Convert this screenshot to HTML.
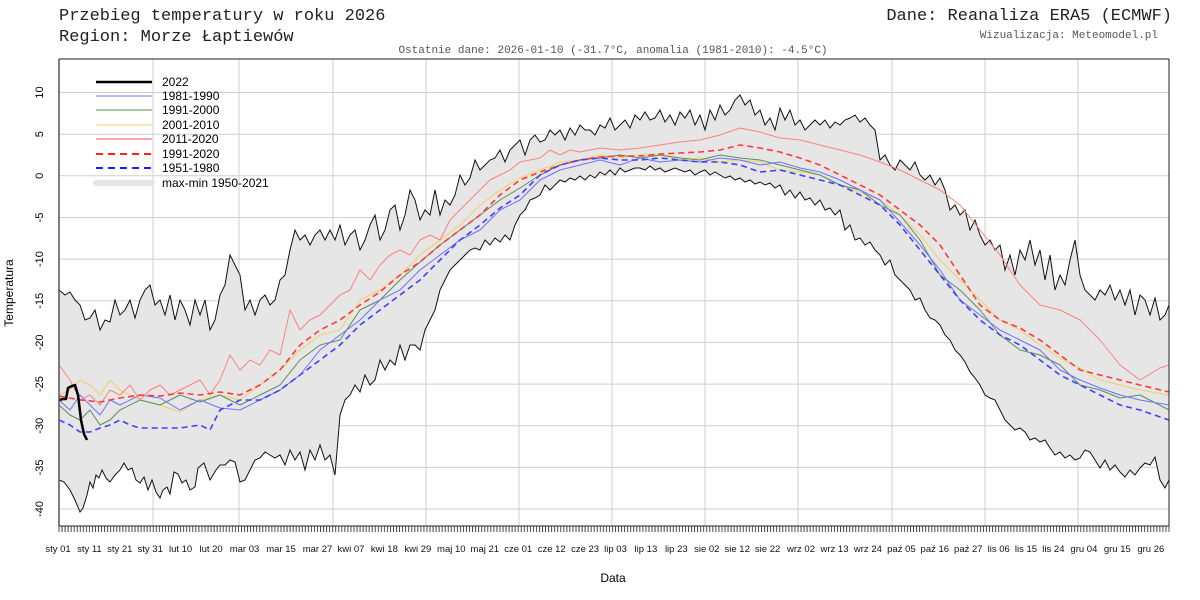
<!DOCTYPE html>
<html><head><meta charset="utf-8"><style>body{margin:0;background:#fff}svg{display:block}</style></head>
<body>
<svg width="1200" height="600" xmlns="http://www.w3.org/2000/svg" font-family="Liberation Sans, Arial, sans-serif">
<defs>
<clipPath id="below"><polygon points="59,480 64,482 70,490 75,500 80,512 83,508 87,495 90,482 93,488 96,475 99,478 102,470 106,478 110,482 115,475 120,470 124,463 128,470 132,468 136,480 140,483 144,477 148,490 152,480 156,492 160,498 163,490 167,487 170,494 174,472 178,474 182,483 186,480 190,490 195,487 198,468 204,463 210,480 216,470 220,465 225,465 230,460 235,462 240,482 245,480 250,470 255,460 260,458 265,452 270,455 275,458 280,455 285,465 290,450 295,460 300,452 305,470 310,450 315,460 320,445 325,460 330,455 335,475 340,415 345,400 350,395 355,385 360,392 365,375 370,385 375,380 380,360 385,370 390,360 395,365 400,345 405,360 410,345 415,345 420,350 425,330 430,320 435,310 440,290 445,280 450,270 455,265 460,260 465,255 470,250 475,248 480,250 485,240 490,245 495,238 500,242 505,235 510,240 515,225 520,215 525,210 530,200 535,198 540,195 545,185 550,190 555,185 560,180 565,182 570,178 575,180 580,176 585,180 590,175 595,178 600,172 605,175 610,170 615,175 620,168 625,172 630,170 635,168 640,168 645,170 650,166 655,170 660,168 665,172 670,170 675,168 680,170 685,172 690,170 695,175 700,172 705,170 710,175 715,172 720,175 725,178 730,176 735,180 740,178 745,182 750,180 755,184 760,182 765,185 770,183 775,188 780,185 785,195 790,190 795,198 800,192 805,200 810,198 815,205 820,200 825,210 830,208 835,215 840,210 845,230 850,225 855,240 860,238 865,245 870,242 875,250 880,255 885,265 890,260 895,275 900,280 905,285 910,290 915,300 920,298 925,310 930,318 935,320 940,325 945,335 950,340 955,350 960,355 965,362 970,372 975,378 980,385 985,395 990,398 995,400 1000,410 1005,420 1010,425 1015,430 1020,428 1025,432 1030,440 1035,438 1040,442 1045,440 1050,448 1055,455 1060,452 1065,458 1070,455 1075,460 1080,458 1085,450 1090,452 1095,460 1100,468 1105,460 1110,470 1115,465 1120,472 1125,477 1130,470 1135,475 1140,468 1145,463 1150,465 1155,457 1160,480 1165,488 1169,480 1169,526 59,526"/></clipPath>
<pattern id="tk" patternUnits="userSpaceOnUse" x="58.5" y="526" width="3.0411" height="6"><line x1="0.5" y1="0" x2="0.5" y2="6" stroke="#333" stroke-width="0.9"/></pattern>
<g id="grid" stroke="#cfcfcf" stroke-width="1">
<line x1="59" x2="1169" y1="92.5" y2="92.5"/><line x1="59" x2="1169" y1="134.2" y2="134.2"/><line x1="59" x2="1169" y1="175.8" y2="175.8"/><line x1="59" x2="1169" y1="217.5" y2="217.5"/><line x1="59" x2="1169" y1="259.1" y2="259.1"/><line x1="59" x2="1169" y1="300.8" y2="300.8"/><line x1="59" x2="1169" y1="342.4" y2="342.4"/><line x1="59" x2="1169" y1="384.1" y2="384.1"/><line x1="59" x2="1169" y1="425.7" y2="425.7"/><line x1="59" x2="1169" y1="467.4" y2="467.4"/><line x1="59" x2="1169" y1="509" y2="509"/>
<line x1="153" x2="153" y1="59" y2="526"/><line x1="239" x2="239" y1="59" y2="526"/><line x1="333" x2="333" y1="59" y2="526"/><line x1="426" x2="426" y1="59" y2="526"/><line x1="519" x2="519" y1="59" y2="526"/><line x1="612" x2="612" y1="59" y2="526"/><line x1="705" x2="705" y1="59" y2="526"/><line x1="798" x2="798" y1="59" y2="526"/><line x1="892" x2="892" y1="59" y2="526"/><line x1="985" x2="985" y1="59" y2="526"/><line x1="1078" x2="1078" y1="59" y2="526"/>
</g>
</defs>
<rect width="1200" height="600" fill="#fff"/>
<g font-family="Liberation Mono, monospace" fill="#222">
<text x="59" y="20" font-size="17">Przebieg temperatury w roku 2026</text>
<text x="59" y="41" font-size="17">Region: Morze Łaptiewów</text>
<text x="1172" y="20" font-size="17" text-anchor="end">Dane: Reanaliza ERA5 (ECMWF)</text>
<text x="1158" y="38" font-size="11" text-anchor="end" fill="#555">Wizualizacja: Meteomodel.pl</text>
<text x="613" y="53" font-size="11" text-anchor="middle" fill="#555">Ostatnie dane: 2026-01-10 (-31.7°C, anomalia (1981-2010): -4.5°C)</text>
</g>
<use href="#grid"/>
<polygon fill="#e6e6e6" points="59,290 65,295 70,292 75,300 80,305 85,320 90,318 95,310 100,330 105,320 110,322 115,300 120,315 125,310 130,300 135,318 140,300 145,290 150,285 155,305 160,300 165,315 170,295 175,320 180,300 185,310 190,325 195,300 200,315 205,300 210,330 215,320 220,295 225,285 230,255 235,265 240,275 245,310 250,300 255,315 260,300 265,295 270,305 275,300 280,280 285,275 290,250 295,230 300,240 305,235 310,245 315,235 320,230 325,240 330,230 335,240 340,225 345,245 350,235 355,230 360,250 365,240 370,225 375,215 380,240 385,230 390,210 395,205 400,230 405,215 410,190 415,200 420,220 425,210 430,215 435,190 440,215 445,200 450,205 455,195 460,175 465,185 470,178 475,160 480,170 485,165 490,160 495,158 500,150 505,162 510,150 515,145 520,140 525,155 530,140 535,135 540,142 545,140 550,130 555,135 560,130 565,140 570,128 575,135 580,125 585,130 590,130 595,135 600,125 605,128 610,118 615,130 620,125 625,120 630,128 635,115 640,120 645,112 650,120 655,118 660,110 665,122 670,115 675,125 680,112 685,118 690,110 695,125 700,115 705,130 710,110 715,120 720,105 725,115 730,110 735,100 740,95 745,105 750,100 755,115 760,110 765,125 770,118 775,130 780,108 785,120 790,110 795,125 800,120 805,130 810,125 815,120 820,125 825,120 830,128 835,122 840,125 845,120 850,118 855,115 860,122 865,118 870,125 875,130 880,160 885,155 890,165 895,170 900,160 905,165 910,170 915,162 920,175 925,180 930,175 935,185 940,178 945,190 950,210 955,205 960,215 965,210 970,230 975,220 980,235 985,245 990,240 995,250 1000,245 1005,270 1010,255 1015,275 1020,250 1025,260 1030,240 1035,265 1040,250 1045,280 1050,255 1055,290 1060,275 1065,285 1070,260 1075,240 1080,275 1085,290 1090,295 1095,300 1100,290 1105,295 1110,285 1115,300 1120,290 1125,305 1130,290 1135,315 1140,295 1145,300 1150,315 1155,298 1160,320 1165,315 1169,305 1169,526 59,526"/>
<rect x="59" y="59" width="1110" height="467" fill="#fff" clip-path="url(#below)"/>
<use href="#grid" clip-path="url(#below)"/>
<g fill="none" stroke="#111" stroke-width="1">
<polyline points="59,290 65,295 70,292 75,300 80,305 85,320 90,318 95,310 100,330 105,320 110,322 115,300 120,315 125,310 130,300 135,318 140,300 145,290 150,285 155,305 160,300 165,315 170,295 175,320 180,300 185,310 190,325 195,300 200,315 205,300 210,330 215,320 220,295 225,285 230,255 235,265 240,275 245,310 250,300 255,315 260,300 265,295 270,305 275,300 280,280 285,275 290,250 295,230 300,240 305,235 310,245 315,235 320,230 325,240 330,230 335,240 340,225 345,245 350,235 355,230 360,250 365,240 370,225 375,215 380,240 385,230 390,210 395,205 400,230 405,215 410,190 415,200 420,220 425,210 430,215 435,190 440,215 445,200 450,205 455,195 460,175 465,185 470,178 475,160 480,170 485,165 490,160 495,158 500,150 505,162 510,150 515,145 520,140 525,155 530,140 535,135 540,142 545,140 550,130 555,135 560,130 565,140 570,128 575,135 580,125 585,130 590,130 595,135 600,125 605,128 610,118 615,130 620,125 625,120 630,128 635,115 640,120 645,112 650,120 655,118 660,110 665,122 670,115 675,125 680,112 685,118 690,110 695,125 700,115 705,130 710,110 715,120 720,105 725,115 730,110 735,100 740,95 745,105 750,100 755,115 760,110 765,125 770,118 775,130 780,108 785,120 790,110 795,125 800,120 805,130 810,125 815,120 820,125 825,120 830,128 835,122 840,125 845,120 850,118 855,115 860,122 865,118 870,125 875,130 880,160 885,155 890,165 895,170 900,160 905,165 910,170 915,162 920,175 925,180 930,175 935,185 940,178 945,190 950,210 955,205 960,215 965,210 970,230 975,220 980,235 985,245 990,240 995,250 1000,245 1005,270 1010,255 1015,275 1020,250 1025,260 1030,240 1035,265 1040,250 1045,280 1050,255 1055,290 1060,275 1065,285 1070,260 1075,240 1080,275 1085,290 1090,295 1095,300 1100,290 1105,295 1110,285 1115,300 1120,290 1125,305 1130,290 1135,315 1140,295 1145,300 1150,315 1155,298 1160,320 1165,315 1169,305"/>
<polyline points="59,480 64,482 70,490 75,500 80,512 83,508 87,495 90,482 93,488 96,475 99,478 102,470 106,478 110,482 115,475 120,470 124,463 128,470 132,468 136,480 140,483 144,477 148,490 152,480 156,492 160,498 163,490 167,487 170,494 174,472 178,474 182,483 186,480 190,490 195,487 198,468 204,463 210,480 216,470 220,465 225,465 230,460 235,462 240,482 245,480 250,470 255,460 260,458 265,452 270,455 275,458 280,455 285,465 290,450 295,460 300,452 305,470 310,450 315,460 320,445 325,460 330,455 335,475 340,415 345,400 350,395 355,385 360,392 365,375 370,385 375,380 380,360 385,370 390,360 395,365 400,345 405,360 410,345 415,345 420,350 425,330 430,320 435,310 440,290 445,280 450,270 455,265 460,260 465,255 470,250 475,248 480,250 485,240 490,245 495,238 500,242 505,235 510,240 515,225 520,215 525,210 530,200 535,198 540,195 545,185 550,190 555,185 560,180 565,182 570,178 575,180 580,176 585,180 590,175 595,178 600,172 605,175 610,170 615,175 620,168 625,172 630,170 635,168 640,168 645,170 650,166 655,170 660,168 665,172 670,170 675,168 680,170 685,172 690,170 695,175 700,172 705,170 710,175 715,172 720,175 725,178 730,176 735,180 740,178 745,182 750,180 755,184 760,182 765,185 770,183 775,188 780,185 785,195 790,190 795,198 800,192 805,200 810,198 815,205 820,200 825,210 830,208 835,215 840,210 845,230 850,225 855,240 860,238 865,245 870,242 875,250 880,255 885,265 890,260 895,275 900,280 905,285 910,290 915,300 920,298 925,310 930,318 935,320 940,325 945,335 950,340 955,350 960,355 965,362 970,372 975,378 980,385 985,395 990,398 995,400 1000,410 1005,420 1010,425 1015,430 1020,428 1025,432 1030,440 1035,438 1040,442 1045,440 1050,448 1055,455 1060,452 1065,458 1070,455 1075,460 1080,458 1085,450 1090,452 1095,460 1100,468 1105,460 1110,470 1115,465 1120,472 1125,477 1130,470 1135,475 1140,468 1145,463 1150,465 1155,457 1160,480 1165,488 1169,480"/>
</g>
<g fill="none" stroke-linejoin="round">
<polyline stroke="#f0d060" points="59,395 70,390 80,380 90,385 100,395 110,380 120,390 140,400 160,405 180,412 200,400 220,395 240,400 260,385 280,370 300,350 320,335 340,330 360,300 380,290 400,275 420,255 440,240 460,225 480,205 500,190 520,178 540,170 560,162 580,160 600,155 620,158 640,155 660,155 680,160 700,158 720,162 740,160 760,162 780,170 800,172 820,175 840,185 860,192 880,200 900,215 920,235 940,260 960,280 980,300 1000,320 1020,330 1040,345 1060,358 1080,368 1100,380 1120,385 1140,390 1169,395"/>
<polyline stroke="#5a8f5a" points="59,405 70,415 80,420 90,410 100,425 110,420 120,410 140,400 160,405 180,395 200,402 220,395 240,405 260,395 280,385 300,360 320,345 340,340 360,310 380,300 400,280 420,262 440,245 460,230 480,215 500,200 520,188 540,175 560,165 580,160 600,158 620,155 640,158 660,155 680,158 700,160 720,155 740,158 760,160 780,165 800,170 820,175 840,185 860,190 880,205 900,215 920,240 940,275 960,290 980,310 1000,335 1020,350 1040,355 1060,365 1080,385 1100,390 1120,398 1140,395 1169,410"/>
<polyline stroke="#6f6fff" points="59,400 70,410 80,395 90,405 100,415 110,400 120,405 140,395 160,398 180,410 200,400 220,408 240,410 260,400 280,390 300,375 320,350 340,335 360,320 380,300 400,290 420,270 440,255 460,240 480,230 500,210 520,200 540,180 560,170 580,165 600,160 620,165 640,158 660,162 680,160 700,162 720,158 740,160 760,165 780,162 800,168 820,172 840,180 860,190 880,200 900,222 920,245 940,270 960,300 980,315 1000,330 1020,340 1040,350 1060,370 1080,380 1100,388 1120,395 1140,400 1169,405"/>
<polyline stroke="#ff8080" points="59,365 70,380 80,400 90,395 100,405 110,390 120,395 130,385 140,400 150,390 160,385 170,395 180,390 190,385 200,380 210,395 220,380 230,355 240,370 250,360 260,365 270,350 280,355 290,310 300,330 310,320 320,315 330,305 340,295 350,290 360,270 370,280 380,265 390,255 400,250 410,255 420,240 430,235 440,240 450,220 460,210 470,200 480,190 490,180 500,175 510,170 520,162 530,160 540,158 550,150 560,155 570,150 580,152 600,148 620,150 640,148 660,145 680,142 700,140 720,135 740,128 760,132 780,138 800,140 820,145 840,150 860,155 880,162 900,170 920,180 940,190 960,205 980,230 1000,255 1020,285 1040,305 1060,310 1080,320 1100,340 1120,365 1140,380 1160,368 1169,365"/>
<polyline stroke="#ff3a3a" stroke-width="1.6" stroke-dasharray="6,4" points="59,396 80,400 100,402 120,398 140,395 160,396 180,393 200,395 220,392 240,395 260,385 280,370 300,345 320,330 340,320 360,305 380,292 400,275 420,262 440,245 460,230 480,215 500,195 520,180 540,172 560,165 580,160 600,157 620,156 640,156 660,154 680,153 700,152 720,150 740,145 760,148 780,152 800,158 820,165 840,175 860,185 880,195 900,210 920,225 940,245 960,275 980,305 1000,320 1020,328 1040,340 1060,355 1080,370 1100,375 1120,380 1140,385 1169,392"/>
<polyline stroke="#4040ff" stroke-width="1.6" stroke-dasharray="6,4" points="59,420 70,425 80,432 90,432 100,428 110,425 120,420 130,425 140,428 160,428 180,428 200,425 210,430 220,410 240,400 260,400 280,390 300,375 320,360 340,345 360,325 380,310 400,295 420,280 440,260 460,240 480,225 500,208 520,195 540,175 560,165 580,160 600,158 620,160 640,160 660,158 680,160 700,162 720,162 740,165 760,172 780,170 800,175 820,180 840,185 860,195 880,205 900,225 920,250 940,275 960,300 980,320 1000,335 1020,345 1040,360 1060,375 1080,385 1100,395 1120,405 1140,410 1169,420"/>
<polyline stroke="#000" stroke-width="2.5" points="59,400 63,399 66,399 68,388 72,386 75,385 78,395 81,420 84,434 87,440"/>
</g>
<g stroke-width="1">
<line x1="59" y1="59" x2="59" y2="526" stroke="#555" stroke-width="1.5"/>
<line x1="1169" y1="59" x2="1169" y2="526" stroke="#222"/>
<line x1="59" y1="59" x2="1169" y2="59" stroke="#222"/>
<line x1="59" y1="526" x2="1169" y2="526" stroke="#222"/>
</g>
<rect x="58.5" y="526" width="1111" height="6" fill="url(#tk)"/>
<g font-size="11" text-anchor="middle" fill="#000">
<text transform="translate(43,92.5) rotate(-90)">10</text>
<text transform="translate(43,134.2) rotate(-90)">5</text>
<text transform="translate(43,175.8) rotate(-90)">0</text>
<text transform="translate(43,217.5) rotate(-90)">-5</text>
<text transform="translate(43,259.1) rotate(-90)">-10</text>
<text transform="translate(43,300.8) rotate(-90)">-15</text>
<text transform="translate(43,342.4) rotate(-90)">-20</text>
<text transform="translate(43,384.1) rotate(-90)">-25</text>
<text transform="translate(43,425.7) rotate(-90)">-30</text>
<text transform="translate(43,467.4) rotate(-90)">-35</text>
<text transform="translate(43,509) rotate(-90)">-40</text>
</g>
<g font-size="9.5" text-anchor="middle" fill="#111">
<text x="58" y="552">sty 01</text><text x="89.4" y="552">sty 11</text><text x="119.8" y="552">sty 21</text><text x="150.2" y="552">sty 31</text><text x="180.6" y="552">lut 10</text><text x="211.1" y="552">lut 20</text><text x="244.5" y="552">mar 03</text><text x="281" y="552">mar 15</text><text x="317.5" y="552">mar 27</text><text x="351" y="552">kwi 07</text><text x="384.4" y="552">kwi 18</text><text x="417.8" y="552">kwi 29</text><text x="451.3" y="552">maj 10</text><text x="484.8" y="552">maj 21</text><text x="518.2" y="552">cze 01</text><text x="551.7" y="552">cze 12</text><text x="585.1" y="552">cze 23</text><text x="615.5" y="552">lip 03</text><text x="645.9" y="552">lip 13</text><text x="676.3" y="552">lip 23</text><text x="706.8" y="552">sie 02</text><text x="737.2" y="552">sie 12</text><text x="767.6" y="552">sie 22</text><text x="801" y="552">wrz 02</text><text x="834.5" y="552">wrz 13</text><text x="867.9" y="552">wrz 24</text><text x="901.4" y="552">paź 05</text><text x="934.8" y="552">paź 16</text><text x="968.3" y="552">paź 27</text><text x="998.7" y="552">lis 06</text><text x="1026" y="552">lis 15</text><text x="1053.4" y="552">lis 24</text><text x="1083.9" y="552">gru 04</text><text x="1117.3" y="552">gru 15</text><text x="1150.8" y="552">gru 26</text>
</g>
<g font-size="12" fill="#000">
<line x1="96" y1="82" x2="152" y2="82" stroke="#000" stroke-width="2.5"/><text x="162" y="86">2022</text>
<line x1="96" y1="96" x2="152" y2="96" stroke="#6f6fff"/><text x="162" y="100">1981-1990</text>
<line x1="96" y1="110" x2="152" y2="110" stroke="#5a8f5a"/><text x="162" y="114">1991-2000</text>
<line x1="96" y1="125" x2="152" y2="125" stroke="#f0d060"/><text x="162" y="129">2001-2010</text>
<line x1="96" y1="139" x2="152" y2="139" stroke="#ff8888" stroke-width="1.5"/><text x="162" y="143">2011-2020</text>
<line x1="96" y1="154" x2="152" y2="154" stroke="#ff2020" stroke-width="2" stroke-dasharray="7,5"/><text x="162" y="158">1991-2020</text>
<line x1="96" y1="168" x2="152" y2="168" stroke="#2020ff" stroke-width="2" stroke-dasharray="7,5"/><text x="162" y="172">1951-1980</text>
<line x1="96" y1="183" x2="152" y2="183" stroke="#e6e6e6" stroke-width="6" stroke-linecap="round"/><text x="162" y="187">max-min 1950-2021</text>
</g>
<text transform="translate(13,293) rotate(-90)" font-size="12" text-anchor="middle">Temperatura</text>
<text x="613" y="582" font-size="12" text-anchor="middle">Data</text>
</svg>
</body></html>
